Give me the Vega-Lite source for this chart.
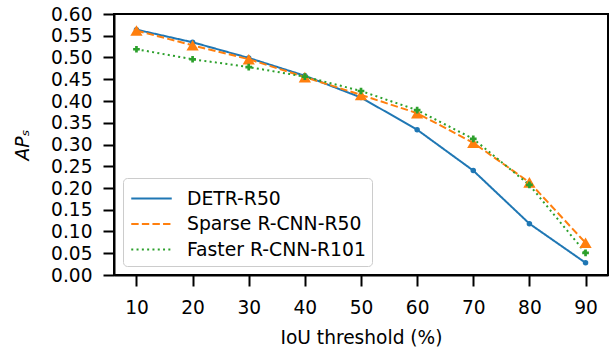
{
  "$schema": "https://vega.github.io/schema/vega-lite/v6.json",
  "autosize": "none",
  "width": 494,
  "height": 261,
  "padding": {"left": 114, "top": 14, "right": 7, "bottom": 75},
  "background": "white",
  "config": {
    "font": "DejaVu Sans",
    "view": {"stroke": "black", "strokeWidth": 2},
    "axis": {
      "grid": false,
      "domainColor": "black",
      "domainWidth": 2,
      "tickColor": "black",
      "tickWidth": 2,
      "tickSize": 11,
      "labelFont": "DejaVu Sans",
      "labelFontSize": 18.6,
      "labelColor": "black",
      "titleFont": "DejaVu Sans",
      "titleFontSize": 18.6,
      "titleFontWeight": "normal",
      "titleColor": "black"
    },
    "legend": {
      "labelFont": "DejaVu Sans",
      "labelFontSize": 18.8,
      "labelColor": "black",
      "labelLimit": 400
    }
  },
  "data": {
    "values": [
      {"iou": 10, "series": "DETR-R50", "ap": 0.564},
      {"iou": 20, "series": "DETR-R50", "ap": 0.535},
      {"iou": 30, "series": "DETR-R50", "ap": 0.499},
      {"iou": 40, "series": "DETR-R50", "ap": 0.458},
      {"iou": 50, "series": "DETR-R50", "ap": 0.408},
      {"iou": 60, "series": "DETR-R50", "ap": 0.334},
      {"iou": 70, "series": "DETR-R50", "ap": 0.240},
      {"iou": 80, "series": "DETR-R50", "ap": 0.118},
      {"iou": 90, "series": "DETR-R50", "ap": 0.028},
      {"iou": 10, "series": "Sparse R-CNN-R50", "ap": 0.562},
      {"iou": 20, "series": "Sparse R-CNN-R50", "ap": 0.528},
      {"iou": 30, "series": "Sparse R-CNN-R50", "ap": 0.496},
      {"iou": 40, "series": "Sparse R-CNN-R50", "ap": 0.455},
      {"iou": 50, "series": "Sparse R-CNN-R50", "ap": 0.414},
      {"iou": 60, "series": "Sparse R-CNN-R50", "ap": 0.372},
      {"iou": 70, "series": "Sparse R-CNN-R50", "ap": 0.304},
      {"iou": 80, "series": "Sparse R-CNN-R50", "ap": 0.213},
      {"iou": 90, "series": "Sparse R-CNN-R50", "ap": 0.074},
      {"iou": 10, "series": "Faster R-CNN-R101", "ap": 0.519},
      {"iou": 20, "series": "Faster R-CNN-R101", "ap": 0.496},
      {"iou": 30, "series": "Faster R-CNN-R101", "ap": 0.478},
      {"iou": 40, "series": "Faster R-CNN-R101", "ap": 0.456},
      {"iou": 50, "series": "Faster R-CNN-R101", "ap": 0.423},
      {"iou": 60, "series": "Faster R-CNN-R101", "ap": 0.379},
      {"iou": 70, "series": "Faster R-CNN-R101", "ap": 0.313},
      {"iou": 80, "series": "Faster R-CNN-R101", "ap": 0.207},
      {"iou": 90, "series": "Faster R-CNN-R101", "ap": 0.051}
    ]
  },
  "encoding": {
    "x": {
      "field": "iou",
      "type": "quantitative",
      "scale": {"domain": [6, 94], "nice": false, "zero": false},
      "axis": {"values": [10, 20, 30, 40, 50, 60, 70, 80, 90], "title": "IoU threshold (%)", "labelPadding": 12, "titlePadding": 12, "labelFlush": false}
    },
    "y": {
      "field": "ap",
      "type": "quantitative",
      "scale": {"domain": [0, 0.6], "nice": false},
      "axis": {"values": [0, 0.05, 0.1, 0.15, 0.2, 0.25, 0.3, 0.35, 0.4, 0.45, 0.5, 0.55, 0.6], "format": ".2f", "title": "APₛ", "titleFontStyle": "italic", "labelPadding": 11, "titlePadding": 18, "labelFlush": false}
    }
  },
  "layer": [
    {
      "mark": {"type": "line", "strokeWidth": 2},
      "encoding": {
        "strokeDash": {
          "field": "series",
          "type": "nominal",
          "scale": {"domain": ["DETR-R50", "Sparse R-CNN-R50", "Faster R-CNN-R101"], "range": [[1, 0], [7.4, 3.2], [2, 3.3]]}
        },
        "color": {
          "field": "series",
          "type": "nominal",
          "scale": {"domain": ["DETR-R50", "Sparse R-CNN-R50", "Faster R-CNN-R101"], "range": ["#1f77b4", "#ff7f0e", "#2ca02c"]},
          "legend": {
            "title": null,
            "orient": "bottom-left",
            "offset": 9,
            "symbolType": "M-1.5,0H1.5",
            "symbolSize": 729,
            "symbolStrokeWidth": 2,
            "symbolOffset": 8,
            "labelOffset": 21,
            "padding": 6,
            "rowPadding": 0.5,
            "fillColor": "rgba(255,255,255,0.8)",
            "strokeColor": "#cccccc",
            "cornerRadius": 4
          }
        }
      }
    },
    {
      "transform": [{"filter": "datum.series === 'DETR-R50'"}],
      "mark": {"type": "point", "filled": true, "opacity": 1, "shape": "circle", "size": 30, "color": "#1f77b4"},
      "encoding": {}
    },
    {
      "transform": [{"filter": "datum.series === 'Sparse R-CNN-R50'"}],
      "mark": {"type": "point", "filled": true, "opacity": 1, "shape": "triangle-up", "size": 150, "color": "#ff7f0e"},
      "encoding": {}
    },
    {
      "transform": [{"filter": "datum.series === 'Faster R-CNN-R101'"}],
      "mark": {"type": "point", "filled": true, "opacity": 1, "shape": "cross", "size": 45, "color": "#2ca02c"},
      "encoding": {}
    }
  ]
}
